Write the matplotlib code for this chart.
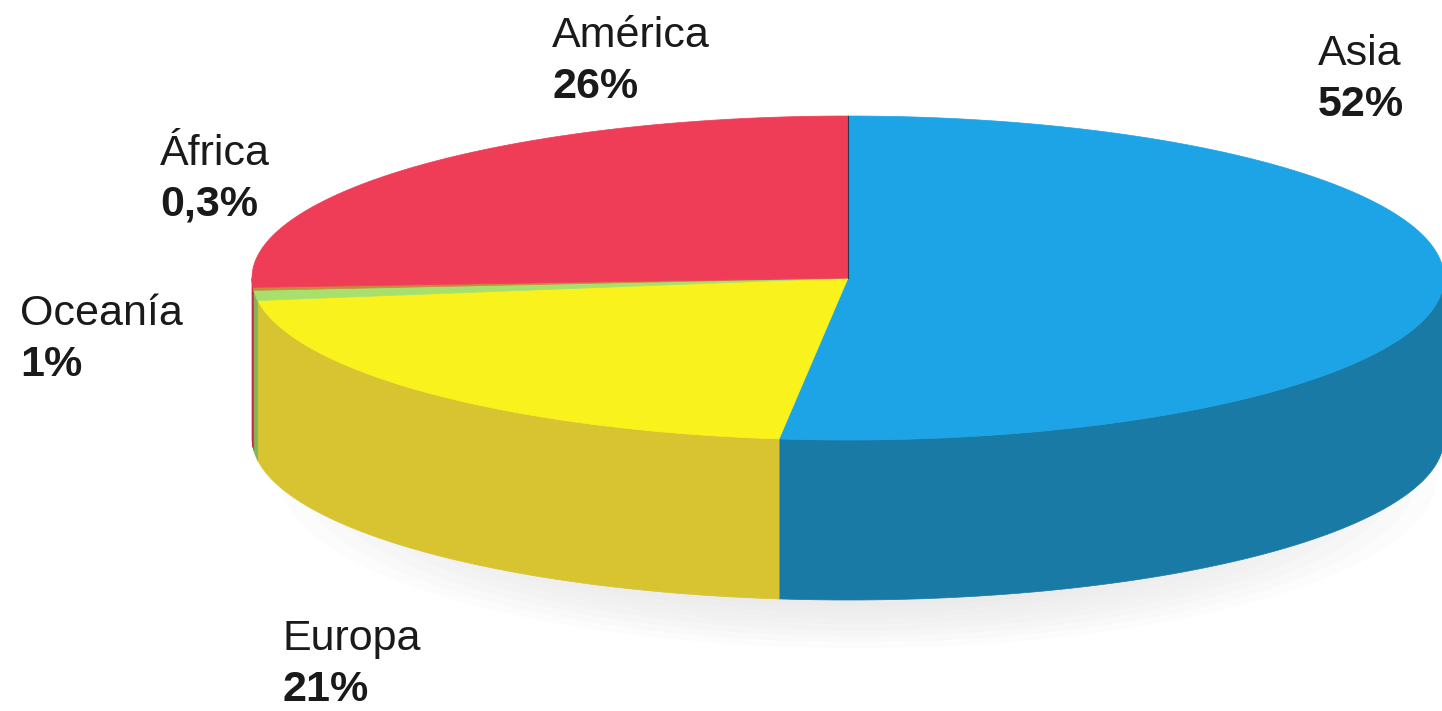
import numpy as np
import matplotlib
matplotlib.use("Agg")
import matplotlib.pyplot as plt
from matplotlib.patches import Polygon, Ellipse

# data
continents = ["Asia", "Europa", "Oceanía", "África", "América"]
shares = [52, 21, 1, 0.3, 26]

# styling
top_colors = ["#1ca4e6", "#f9f21d", "#a7e06c", "#c98a3a", "#ef3d58"]
side_colors = ["#1a7aa6", "#d8c331", "#86b454", "#a06c2c", "#c02c44"]
label_pos = [(1318, 65), (283, 650), (20, 325), (160, 165), (552, 47)]

CX, CY = 848, 278      # centre of top face (pixels)
RX, RY = 596, 162      # radii of top face
DEPTH = 160            # thickness of the pie
START = 90             # first slice starts at 12 o'clock, clockwise


def pt(theta, dy=0):
    t = np.radians(theta)
    return CX + RX * np.cos(t), CY - RY * np.sin(t) + dy


fig = plt.figure(figsize=(14.42, 7.11), dpi=100, facecolor="white")
ax = fig.add_axes([0, 0, 1, 1])
ax.set_xlim(0, 1442)
ax.set_ylim(711, 0)
ax.axis("off")

# soft shadow under the pie
for i in range(14):
    k = 1 - i * 0.035
    ax.add_patch(Ellipse((CX + 10, CY + DEPTH + 40), 2 * RX * 0.97 * k,
                         2 * RY * 1.05 * k,
                         facecolor="#a0a0a0", edgecolor="none", alpha=0.025,
                         zorder=0))

total = sum(shares)
angles = [START]
for v in shares:
    angles.append(angles[-1] - 360.0 * v / total)

# side walls (only the front half, theta in [-180, 0])
for i in range(len(shares)):
    a1, a2 = angles[i], angles[i + 1]
    hi = min(a1, 0)
    lo = max(a2, -180)
    if hi <= lo:
        continue
    th = np.linspace(hi, lo, 200)
    upper = [pt(t) for t in th]
    lower = [pt(t, DEPTH) for t in th[::-1]]
    ax.add_patch(Polygon(upper + lower, closed=True, facecolor=side_colors[i],
                         edgecolor=side_colors[i], linewidth=0.5, zorder=2))

# top face
for i in range(len(shares)):
    th = np.linspace(angles[i], angles[i + 1], 300)
    verts = [(CX, CY)] + [pt(t) for t in th]
    ax.add_patch(Polygon(verts, closed=True, facecolor=top_colors[i],
                         edgecolor=top_colors[i], linewidth=0.5, zorder=3))

# thin dark seam at 12 o'clock
x0, y0 = pt(START)
ax.plot([CX, x0], [CY, y0], color="#2a3550", linewidth=0.8, zorder=4)

# labels
for name, v, (lx, ly) in zip(continents, shares, label_pos):
    txt = f"{v:g}".replace(".", ",") + "%"
    ax.text(lx, ly, name, fontsize=31, family="Liberation Sans",
            color="#1a1a1a", va="baseline", ha="left")
    ax.text(lx, ly + 51, txt, fontsize=31, family="Liberation Sans",
            fontweight="bold", color="#1a1a1a", va="baseline", ha="left")

fig.savefig("out.png", dpi=100, facecolor="white")
